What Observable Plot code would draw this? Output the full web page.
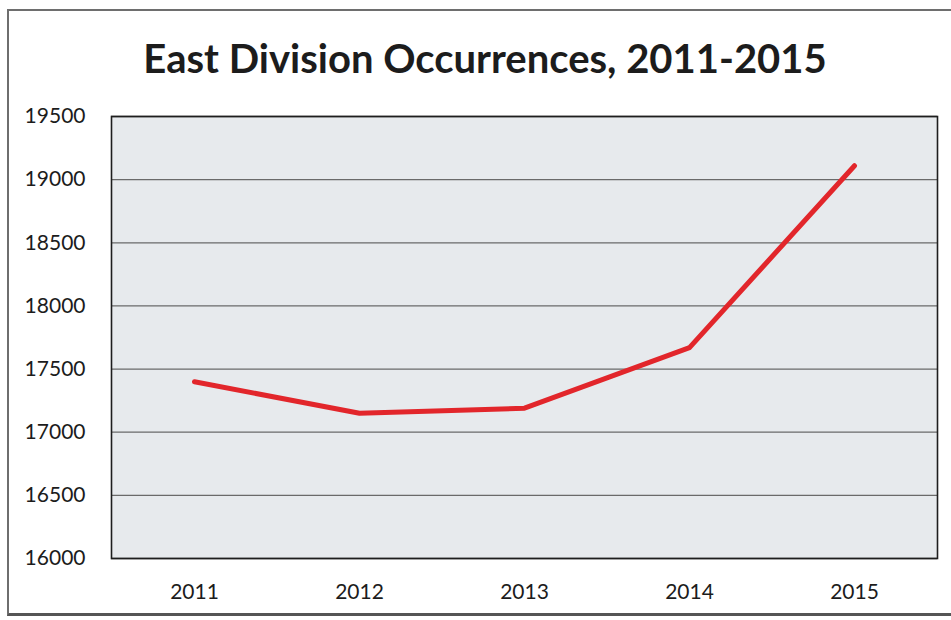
<!DOCTYPE html>
<html><head><meta charset="utf-8">
<script src="https://cdn.jsdelivr.net/npm/d3@7"></script>
<script src="https://cdn.jsdelivr.net/npm/@observablehq/plot@0.6"></script>
<style>
html,body{margin:0;padding:0;background:#fff;width:951px;height:620px;overflow:hidden;font-family:Lato,"Open Sans",sans-serif;}
#frame{position:absolute;left:7px;top:9px;width:1000px;height:602px;border:2px solid #6e6e6e;border-bottom:3px solid #555;}
#title{position:absolute;left:0;width:970px;top:38px;text-align:center;font-weight:700;font-size:40px;line-height:1;color:#1c1c1c;letter-spacing:0px;}
#chart{position:absolute;left:0;top:100px;}
</style></head>
<body>
<div id="frame"></div>
<div id="title">East Division Occurrences, 2011-2015</div>
<div id="chart"></div>
<script>
const years = ["2011", "2012", "2013", "2014", "2015"];
const occurrences = [17400, 17150, 17190, 17670, 19110];
const yTicks = [16000, 16500, 17000, 17500, 18000, 18500, 19000, 19500];

const data = years.map((y, i) => ({year: y, value: occurrences[i]}));

const chart = Plot.plot({
  width: 951,
  height: 518,
  marginLeft: 111,
  marginRight: 14,
  marginTop: 16,
  marginBottom: 60,
  style: {fontFamily: "Lato, 'Open Sans', sans-serif", fontSize: "21px", color: "#1c1c1c", background: "transparent"},
  x: {type: "point", domain: years, padding: 0.5, label: null},
  y: {domain: [16000, 19500], label: null},
  marks: [
    Plot.frame({fill: "#e7eaed", stroke: null}),
    Plot.gridY(yTicks, {stroke: "#6a6a6a", strokeOpacity: 1, strokeWidth: 1.3}),
    Plot.frame({stroke: "#1e1e1e", strokeWidth: 1.6}),
    Plot.axisY(yTicks, {tickSize: 0, tickPadding: 26, fontSize: 21, label: null, tickFormat: d => String(d)}),
    Plot.axisX({tickSize: 0, tickPadding: 26, fontSize: 21, label: null}),
    Plot.line(data, {x: "year", y: "value", stroke: "#e2262b", strokeWidth: 5, strokeLinecap: "round", strokeLinejoin: "round"})
  ]
});
document.getElementById("chart").appendChild(chart);
</script>
</body></html>
